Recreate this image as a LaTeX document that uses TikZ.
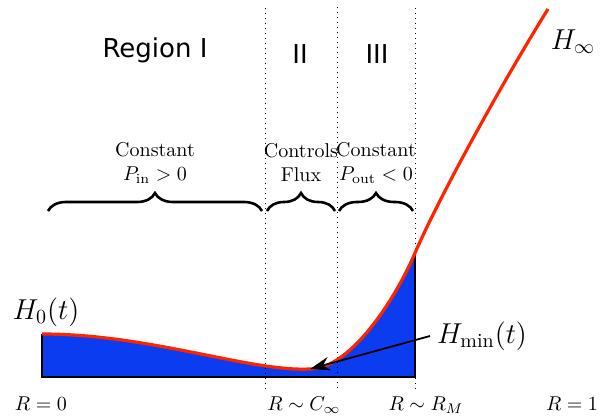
\documentclass[tikz,border=0pt]{standalone}
\usepackage{amsmath}
\usepackage{fontspec}
\newfontfamily\regionfont{DejaVu Sans}
\usetikzlibrary{arrows.meta, decorations.pathreplacing}
\definecolor{fluidblue}{RGB}{12,60,240}
\definecolor{curvered}{RGB}{255,36,0}

\begin{document}
\begin{tikzpicture}[x=0.5pt, y=-0.5pt, font=\normalsize,
  sep/.style={draw=black, line width=0.5pt, dotted},
  regionlbl/.style={font=\fontsize{13}{15}\regionfont},
  hlbl/.style={font=\Large},
  rlbl/.style={font=\normalsize},
  brc/.style={draw, line width=1.3pt, decorate, decoration={brace, amplitude=9pt}},
  profile/.style={draw=curvered, line width=1.6pt},
  ptr/.style={draw=black, line width=0.9pt, -{Stealth[length=3.5mm, width=2.4mm]}}
]
  \useasboundingbox (0,0) rectangle (613,416);
  % key points of the profile
  \coordinate (A) at (42,334);
  \coordinate (M) at (310,369);
  \coordinate (W) at (415,253);
  \coordinate (E) at (548,9);
  % fluid
  \fill[fluidblue] (42,377) -- (A) .. controls (150,334) and (250,372) .. (M)
    .. controls (350,369) and (395,300) .. (W) -- (415,377) -- cycle;
  \draw[line width=0.6pt] (42,334) -- (42,377) -- (415,377) -- (W);
  % region separators
  \draw[sep] (265,8) -- (265,390);
  \draw[sep] (337,7) -- (337,390);
  \draw[sep] (415,8) -- (415,392);
  % profile curve
  \draw[profile] (A) .. controls (150,334) and (250,372) .. (M)
    .. controls (350,369) and (395,300) .. (W)
    .. controls (437,202) and (496,93) .. (E);
  % labels
  \node[regionlbl] (rI)   at (155,50) {Region I};
  \node[regionlbl] (rII)  at (300,54) {II};
  \node[regionlbl] (rIII) at (377,54) {III};
  \node[hlbl] (Hinf) at (573,42)  {$H_\infty$};
  \node[hlbl] (H0)   at (46,312)  {$H_0(t)$};
  \node[hlbl] (Hmin) at (482,336) {$H_{\min}(t)$};
  \draw[ptr] (Hmin.west) -- (M);
  \node[align=center] (tI)   at (155,163) {Constant\\$P_{\text{in}}>0$};
  \node[align=center] (tII)  at (301,163) {Controls\\Flux};
  \node[align=center] (tIII) at (376,163) {Constant\\$P_{\text{out}}<0$};
  \draw[brc] (48,211) -- (262,211);
  \draw[brc] (267,211) -- (335,211);
  \draw[brc] (339,211) -- (413,211);
  \node[rlbl] (R0)   at (41,404)  {$R=0$};
  \node[rlbl] (RC)   at (304,405) {$R\sim C_\infty$};
  \node[rlbl] (RM)   at (426,405) {$R\sim R_M$};
  \node[rlbl] (R1)   at (572,404) {$R=1$};
\end{tikzpicture}
\end{document}
